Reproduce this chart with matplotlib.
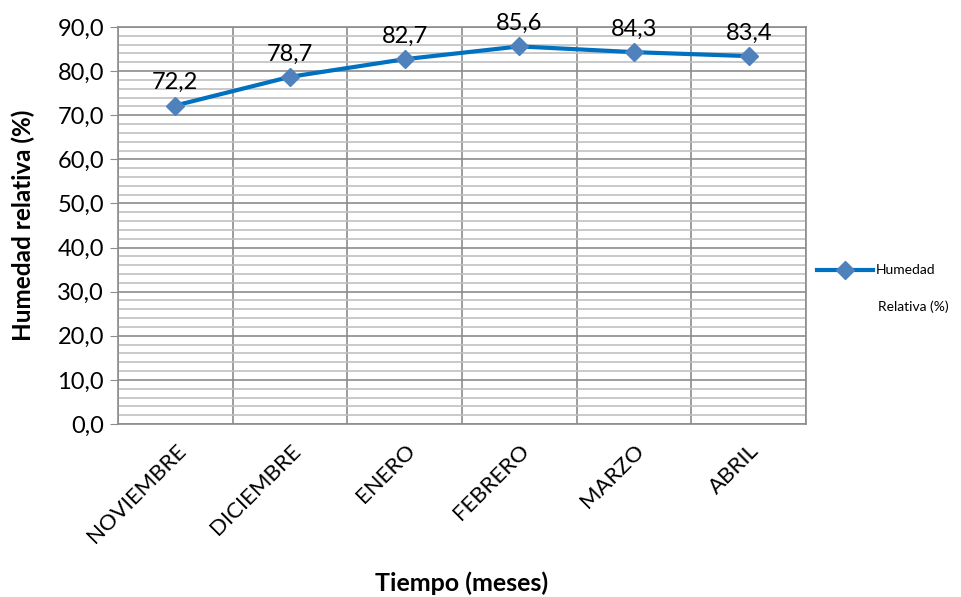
import numpy as np
import matplotlib.pyplot as plt
from matplotlib.ticker import MultipleLocator, FixedLocator

meses = ["NOVIEMBRE", "DICIEMBRE", "ENERO", "FEBRERO", "MARZO", "ABRIL"]
humedad = [72.2, 78.7, 82.7, 85.6, 84.3, 83.4]

plt.rcParams['font.family'] = ['Lato', 'DejaVu Sans']

fig = plt.figure(figsize=(9.62, 5.97), dpi=100)
ax = fig.add_axes([118 / 962, 1 - 424 / 597, 688 / 962, 397 / 597])

x = np.arange(len(meses))
ax.plot(x, humedad, color="#0070C0", lw=3, marker="D", ms=9,
        mfc="#4F81BD", mec="#4F81BD", label="Humedad", zorder=3)

# etiquetas de valor con coma decimal
for xi, v in zip(x, humedad):
    ax.annotate(f"{v:.1f}".replace(".", ","), (xi, v), xytext=(0, 9),
                textcoords="offset points", ha="center", va="bottom", fontsize=17)

ax.set_xlim(-0.5, len(meses) - 0.5)
ax.set_ylim(0, 90)
ax.yaxis.set_major_locator(MultipleLocator(10))
ax.yaxis.set_minor_locator(MultipleLocator(2))
ax.set_yticklabels([f"{t:.1f}".replace(".", ",") for t in ax.get_yticks()], fontsize=17)
ax.set_xticks(x)
ax.set_xticklabels(meses, rotation=45, ha="right", rotation_mode="anchor", fontsize=16)
ax.xaxis.set_minor_locator(FixedLocator(np.arange(-0.5, len(meses), 1)))

ax.grid(which="major", axis="y", color="#8c8c8c", lw=1.2)
ax.grid(which="minor", axis="y", color="#c0c0c0", lw=1.2)
ax.grid(which="minor", axis="x", color="#8c8c8c", lw=1.2)
ax.tick_params(axis="y", which="major", length=6, color="#8c8c8c", pad=4)
ax.tick_params(axis="y", which="minor", length=0)
ax.tick_params(axis="x", which="both", length=0, pad=12)
for s in ax.spines.values():
    s.set_color("#8c8c8c")
    s.set_linewidth(1.2)

ax.set_ylabel("Humedad relativa (%)", fontsize=17.5, fontweight="bold", labelpad=16)
ax.set_xlabel("Tiempo (meses)", fontsize=18, fontweight="bold", labelpad=18)

leg = ax.legend(loc="upper left", bbox_to_anchor=(1.0, 0.43), frameon=False,
                fontsize=10, handlelength=4.0, handletextpad=0.25,
                borderaxespad=0.4)
ax.text(1.1045, 0.295, "Relativa (%)", transform=ax.transAxes, fontsize=10,
        ha="left", va="center")

fig.savefig("out.png", dpi=100)
